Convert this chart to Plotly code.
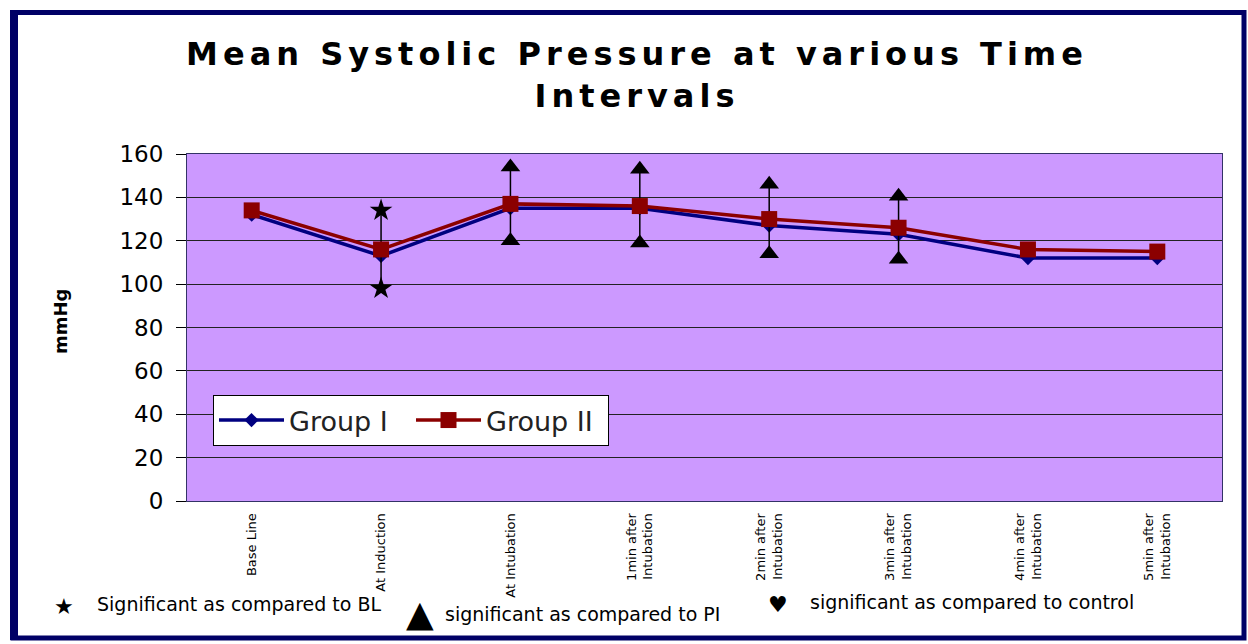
import plotly.graph_objects as go

categories = ["Base Line", "At Induction", "At Intubation", "1min after<br>Intubation",
              "2min after<br>Intubation", "3min after<br>Intubation",
              "4min after<br>Intubation", "5min after<br>Intubation"]
group1 = [132, 113, 135, 135, 127, 123, 112, 112]
group2 = [134, 116, 137, 136, 130, 126, 116, 115]
sd2 = [None, 18, 17, 17, 16, 14.5, None, None]
sig_symbol = [None, "star", "triangle-up", "triangle-up", "triangle-up", "triangle-up", None, None]
y_ticks = [0, 20, 40, 60, 80, 100, 120, 140, 160]

# plot area in pixels (viewport coordinates)
L, R, T, B = 187, 1222, 154, 501
W, H = 1248, 644
pw, ph = R - L, B - T

def px(x):
    return (x - L) / pw

def py(y):
    return (B - y) / ph

FONT = "DejaVu Sans, Liberation Sans, Arial, sans-serif"

fig = go.Figure()

err = [s if s is not None else 0 for s in sd2]

fig.add_trace(go.Scatter(
    x=categories, y=group1, name="Group I", mode="lines+markers",
    line=dict(color="#000080", width=3.5),
    marker=dict(symbol="diamond", size=11, color="#000080"),
))
fig.add_trace(go.Scatter(
    x=categories, y=group2, name="Group II", mode="lines+markers",
    line=dict(color="#8B0000", width=3.5),
    marker=dict(symbol="square", size=16, color="#8B0000"),
    error_y=dict(type="data", array=err, visible=True, color="black", thickness=1.5, width=0),
))

# significance markers at error bar ends
sx, sy, ss = [], [], []
for c, m, s, sym in zip(categories, group2, sd2, sig_symbol):
    if s is None:
        continue
    sx += [c, c]
    sy += [m + s, m - s]
    ss += [sym, sym]
fig.add_trace(go.Scatter(
    x=sx, y=sy, mode="markers", showlegend=False,
    marker=dict(symbol=ss, size=17, color="black"),
))

# outer frame
fig.add_shape(type="rect", xref="paper", yref="paper",
              x0=px(13), x1=px(1244), y0=py(12.5), y1=py(638),
              line=dict(color="#000066", width=5), fillcolor="rgba(0,0,0,0)", layer="below")
fig.add_shape(type="line", xref="paper", yref="paper",
              x0=px(14), x1=px(14), y0=py(10), y1=py(640),
              line=dict(color="#000066", width=8), layer="below")

ann_font = dict(family=FONT, size=19, color="black")
anns = [
    dict(text="★", x=px(64), y=py(606), font=dict(family=FONT, size=22, color="black")),
    dict(text="Significant as compared to BL", x=px(95), y=py(604), xanchor="left", font=ann_font),
    dict(text="▲", x=px(420), y=py(613), font=dict(family=FONT, size=36, color="black")),
    dict(text="significant as compared to PI", x=px(443), y=py(614), xanchor="left", font=ann_font),
    dict(text="♥", x=px(778), y=py(604), font=dict(family=FONT, size=22, color="black")),
    dict(text="significant as compared to control", x=px(808), y=py(602), xanchor="left", font=ann_font),
    dict(text="<b>mmHg</b>", x=px(60), y=py(322), textangle=-90,
         font=dict(family=FONT, size=18, color="black")),
]
for a in anns:
    a.setdefault("xanchor", "center")
    fig.add_annotation(xref="paper", yref="paper", showarrow=False, yanchor="middle", **a)

fig.update_layout(
    width=W, height=H,
    margin=dict(l=L, r=W - R, t=T, b=H - B),
    paper_bgcolor="white",
    plot_bgcolor="#CC99FF",
    title=dict(
        text="<b>Mean Systolic Pressure at various Time<br>Intervals</b>",
        x=637 / W, xanchor="center", y=1 - 65 / H, yanchor="middle",
        font=dict(family=FONT, size=32, color="black"),
    ),
    showlegend=True,
    legend=dict(
        orientation="h", x=px(213), y=py(395), xanchor="left", yanchor="top",
        bgcolor="white", bordercolor="black", borderwidth=1,
        font=dict(family=FONT, size=27, color="#222222"),
        itemwidth=65, entrywidth=117, entrywidthmode="pixels",
    ),
    font=dict(family=FONT, color="black"),
)

fig.update_xaxes(
    type="category", range=[-0.5, 7.5], tickangle=-90,
    tickfont=dict(size=13, family=FONT, color="black"),
    showgrid=False, showline=True, linecolor="#333366", linewidth=1, mirror=True,
    ticks="", zeroline=False, ticklabelstandoff=6,
)
fig.update_yaxes(
    range=[0, 160], tickvals=y_ticks, ticktext=[str(v) for v in y_ticks],
    tickfont=dict(size=23, family=FONT, color="black"),
    showgrid=True, gridcolor="#222222", gridwidth=1,
    showline=True, linecolor="#333366", linewidth=1, mirror=True,
    ticks="outside", ticklen=10, tickcolor="black", zeroline=False,
    ticklabelstandoff=8,
)

post = """
document.body.style.margin = '0';
document.body.style.overflow = 'hidden';
var t = document.querySelector('.gtitle');
if (t) { t.style.letterSpacing = '5px'; }
"""
fig.write_html("out.html", post_script=post, config={"displayModeBar": False})
